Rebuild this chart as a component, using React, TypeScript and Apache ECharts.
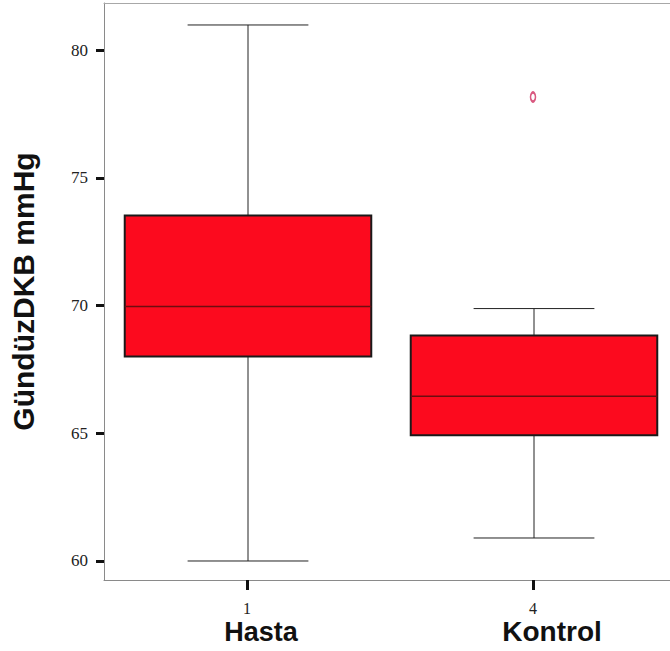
import React, { useEffect, useRef } from "react";
import * as echarts from "echarts";

const categories = ["Hasta", "Kontrol"];
const tickCodes = ["1", "4"];
const minVals = [60.0, 60.9];
const q1Vals = [68.0, 64.92];
const medVals = [69.96, 66.45];
const q3Vals = [73.52, 68.83];
const maxVals = [80.98, 69.88];
const outliers: [number, number][] = [[1, 78.16]];
const yTicks = [60, 65, 70, 75, 80];

export default function App() {
  const ref = useRef<HTMLDivElement>(null);
  useEffect(() => {
    if (!ref.current) return;
    const chart = echarts.init(ref.current, null, { renderer: "svg" });
    const boxData = categories.map((_, i) => [i, minVals[i], q1Vals[i], medVals[i], q3Vals[i], maxVals[i]]);
    const option: any = {
      animation: false,
      backgroundColor: "#ffffff",
      grid: {
        left: 104,
        top: 3,
        width: 572,
        height: 577,
        show: false,
      },
      xAxis: [
        {
          type: "category",
          data: categories,
          axisLine: { show: true, lineStyle: { color: "#8a8a8a", width: 1 } },
          axisTick: { show: true, alignWithLabel: true, length: 10, lineStyle: { color: "#111", width: 3 } },
          axisLabel: {
            margin: 20,
            formatter: (v: string, i: number) => `{n|${tickCodes[i]}}\n{${i === 0 ? "h" : "k"}|${v}}`,
            rich: {
              n: { fontFamily: "Liberation Serif", fontSize: 16, color: "#222", lineHeight: 17 },
              h: { fontFamily: "Liberation Sans", fontWeight: "bold", fontSize: 27, color: "#111", lineHeight: 29, padding: [0, 0, 0, 28] },
              k: { fontFamily: "Liberation Sans", fontWeight: "bold", fontSize: 28, color: "#111", lineHeight: 29, padding: [0, 0, 0, 38] },
            },
          },
          splitLine: { show: false },
        },
        {
          type: "category",
          data: categories,
          position: "top",
          axisLine: { show: true, lineStyle: { color: "#a8a8a8", width: 1 } },
          axisTick: { show: false },
          axisLabel: { show: false },
          splitLine: { show: false },
        },
      ],
      yAxis: {
        type: "value",
        min: 59.256,
        max: 81.84,
        name: "GündüzDKB mmHg",
        nameLocation: "middle",
        nameGap: 66,
        nameTextStyle: { fontFamily: "Liberation Sans", fontWeight: "bold", fontSize: 30, color: "#111" },
        axisLine: { show: true, lineStyle: { color: "#8a8a8a", width: 1 } },
        axisTick: { show: true, customValues: yTicks, length: 8, lineStyle: { color: "#111", width: 3 } },
        axisLabel: {
          customValues: yTicks,
          margin: 16,
          fontFamily: "Liberation Serif",
          fontSize: 17,
          color: "#222",
        },
        splitLine: { show: false },
      },
      series: [
        {
          type: "custom",
          data: boxData,
          encode: { x: 0, y: [1, 2, 3, 4, 5] },
          renderItem: (params: any, api: any) => {
            const x = api.value(0);
            const pMin = api.coord([x, api.value(1)]);
            const pQ1 = api.coord([x, api.value(2)]);
            const pMed = api.coord([x, api.value(3)]);
            const pQ3 = api.coord([x, api.value(4)]);
            const pMax = api.coord([x, api.value(5)]);
            const band = api.size([1, 0])[0];
            const bw = band * 0.862;
            const cw = bw * 0.49;
            const cx = pMed[0] + 1;
            const thin = { stroke: "#222", lineWidth: 1 };
            return {
              type: "group",
              children: [
                { type: "line", shape: { x1: cx, y1: pMax[1], x2: cx, y2: pQ3[1] }, style: thin },
                { type: "line", shape: { x1: cx, y1: pQ1[1], x2: cx, y2: pMin[1] }, style: thin },
                { type: "line", shape: { x1: cx - cw / 2, y1: pMax[1], x2: cx + cw / 2, y2: pMax[1] }, style: thin },
                { type: "line", shape: { x1: cx - cw / 2, y1: pMin[1], x2: cx + cw / 2, y2: pMin[1] }, style: thin },
                {
                  type: "rect",
                  shape: { x: cx - bw / 2, y: pQ3[1], width: bw, height: pQ1[1] - pQ3[1] },
                  style: { fill: "#fc0a1e", stroke: "#1a1a1a", lineWidth: 2 },
                },
                {
                  type: "line",
                  shape: { x1: cx - bw / 2, y1: pMed[1], x2: cx + bw / 2, y2: pMed[1] },
                  style: { stroke: "#6e0d10", lineWidth: 1.5 },
                },
              ],
            };
          },
        },
        {
          type: "scatter",
          data: outliers,
          symbol: "emptyCircle",
          symbolSize: [5, 9],
          itemStyle: { color: "#d03060", borderColor: "#d03060", borderWidth: 1.5 },
        },
      ],
    };
    chart.setOption(option);
    return () => chart.dispose();
  }, []);
  return (
    <div style={{ position: "fixed", left: 0, top: 0, width: 670, height: 651, overflow: "hidden", background: "#fff" }}>
      <div ref={ref} style={{ width: 700, height: 651 }} />
    </div>
  );
}
